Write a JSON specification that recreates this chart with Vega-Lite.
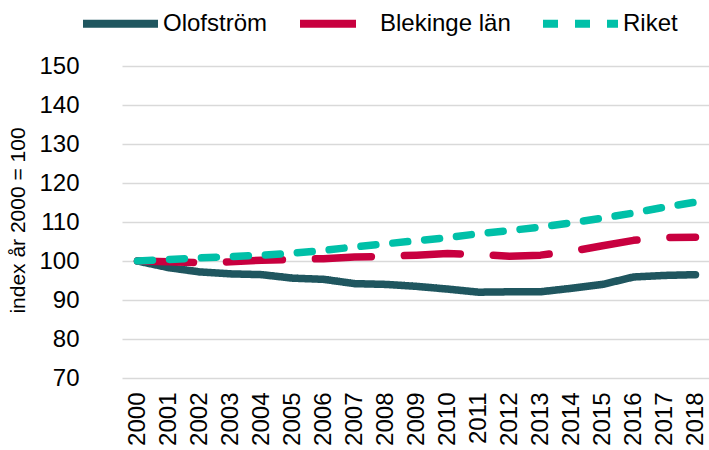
{
  "$schema": "https://vega.github.io/schema/vega-lite/v6.json",
  "width": 589,
  "height": 312,
  "autosize": {"type": "none"},
  "padding": {"left": 122, "top": 66, "right": 0, "bottom": 72},
  "background": "white",
  "config": {
    "view": {"stroke": null},
    "font": "Liberation Sans",
    "axis": {"labelFont": "Liberation Sans", "titleFont": "Liberation Sans", "labelColor": "#000000", "titleColor": "#000000"},
    "legend": {"labelFont": "Liberation Sans", "labelColor": "#000000"}
  },
  "datasets": {
    "d": [
      {"year": "2000", "serie": "Olofström", "value": 100},
      {"year": "2001", "serie": "Olofström", "value": 98.3},
      {"year": "2002", "serie": "Olofström", "value": 97.2},
      {"year": "2003", "serie": "Olofström", "value": 96.7},
      {"year": "2004", "serie": "Olofström", "value": 96.5},
      {"year": "2005", "serie": "Olofström", "value": 95.6},
      {"year": "2006", "serie": "Olofström", "value": 95.3},
      {"year": "2007", "serie": "Olofström", "value": 94.2},
      {"year": "2008", "serie": "Olofström", "value": 94.0},
      {"year": "2009", "serie": "Olofström", "value": 93.5},
      {"year": "2010", "serie": "Olofström", "value": 92.8},
      {"year": "2011", "serie": "Olofström", "value": 92.0},
      {"year": "2012", "serie": "Olofström", "value": 92.1},
      {"year": "2013", "serie": "Olofström", "value": 92.1},
      {"year": "2014", "serie": "Olofström", "value": 93.0},
      {"year": "2015", "serie": "Olofström", "value": 94.0},
      {"year": "2016", "serie": "Olofström", "value": 95.9},
      {"year": "2017", "serie": "Olofström", "value": 96.3},
      {"year": "2018", "serie": "Olofström", "value": 96.5},
      {"year": "2000", "serie": "Blekinge län", "value": 100},
      {"year": "2001", "serie": "Blekinge län", "value": 99.8},
      {"year": "2002", "serie": "Blekinge län", "value": 99.6},
      {"year": "2003", "serie": "Blekinge län", "value": 99.8},
      {"year": "2004", "serie": "Blekinge län", "value": 100.2},
      {"year": "2005", "serie": "Blekinge län", "value": 100.4},
      {"year": "2006", "serie": "Blekinge län", "value": 100.6},
      {"year": "2007", "serie": "Blekinge län", "value": 101.0},
      {"year": "2008", "serie": "Blekinge län", "value": 101.2},
      {"year": "2009", "serie": "Blekinge län", "value": 101.5},
      {"year": "2010", "serie": "Blekinge län", "value": 101.9},
      {"year": "2011", "serie": "Blekinge län", "value": 101.7},
      {"year": "2012", "serie": "Blekinge län", "value": 101.2},
      {"year": "2013", "serie": "Blekinge län", "value": 101.5},
      {"year": "2014", "serie": "Blekinge län", "value": 102.5},
      {"year": "2015", "serie": "Blekinge län", "value": 103.9},
      {"year": "2016", "serie": "Blekinge län", "value": 105.3},
      {"year": "2017", "serie": "Blekinge län", "value": 106.0},
      {"year": "2018", "serie": "Blekinge län", "value": 106.1},
      {"year": "2000", "serie": "Riket", "value": 100},
      {"year": "2001", "serie": "Riket", "value": 100.4},
      {"year": "2002", "serie": "Riket", "value": 100.8},
      {"year": "2003", "serie": "Riket", "value": 101.1},
      {"year": "2004", "serie": "Riket", "value": 101.5},
      {"year": "2005", "serie": "Riket", "value": 102.0},
      {"year": "2006", "serie": "Riket", "value": 102.7},
      {"year": "2007", "serie": "Riket", "value": 103.6},
      {"year": "2008", "serie": "Riket", "value": 104.4},
      {"year": "2009", "serie": "Riket", "value": 105.2},
      {"year": "2010", "serie": "Riket", "value": 106.0},
      {"year": "2011", "serie": "Riket", "value": 107.0},
      {"year": "2012", "serie": "Riket", "value": 107.8},
      {"year": "2013", "serie": "Riket", "value": 108.7},
      {"year": "2014", "serie": "Riket", "value": 109.8},
      {"year": "2015", "serie": "Riket", "value": 111.0},
      {"year": "2016", "serie": "Riket", "value": 112.3},
      {"year": "2017", "serie": "Riket", "value": 113.8},
      {"year": "2018", "serie": "Riket", "value": 115.1}
    ]
  },
  "data": {"name": "d"},
  "mark": {"type": "line", "strokeWidth": 7.5, "strokeCap": "round", "strokeJoin": "round"},
  "encoding": {
    "x": {
      "field": "year", "type": "ordinal",
      "scale": {"paddingInner": 0, "paddingOuter": 0},
      "axis": {"title": null, "labelAngle": -90, "labelFontSize": 24, "labelPadding": 14, "ticks": false, "domain": false, "grid": false}
    },
    "y": {
      "field": "value", "type": "quantitative",
      "scale": {"domain": [70, 150], "nice": false, "zero": false},
      "axis": {
        "values": [70, 80, 90, 100, 110, 120, 130, 140, 150],
        "title": "index år 2000 = 100",
        "titleFontSize": 21, "titleFontWeight": "normal",
        "titleAngle": -90, "titleX": -104, "titleY": 154, "titleAlign": "center", "titleBaseline": "middle",
        "labelFontSize": 24, "labelPadding": 43,
        "ticks": false, "domain": false,
        "grid": true, "gridColor": "#d9d9d9", "gridWidth": 1.3
      }
    },
    "color": {
      "field": "serie", "type": "nominal",
      "scale": {"domain": ["Olofström", "Blekinge län", "Riket"], "range": ["#1F565F", "#C8003F", "#00C0A8"]},
      "legend": {
        "title": null, "orient": "none", "direction": "horizontal",
        "legendX": -43, "legendY": -84, "padding": 0,
        "symbolType": "stroke", "symbolSize": 5625, "symbolStrokeWidth": 8,
        "labelFontSize": 24, "labelOffset": 1, "columnPadding": 16
      }
    },
    "strokeDash": {
      "field": "serie", "type": "nominal",
      "scale": {"domain": ["Olofström", "Blekinge län", "Riket"], "range": [[1, 0], [56, 33], [15, 17]]},
      "legend": null
    }
  }
}
